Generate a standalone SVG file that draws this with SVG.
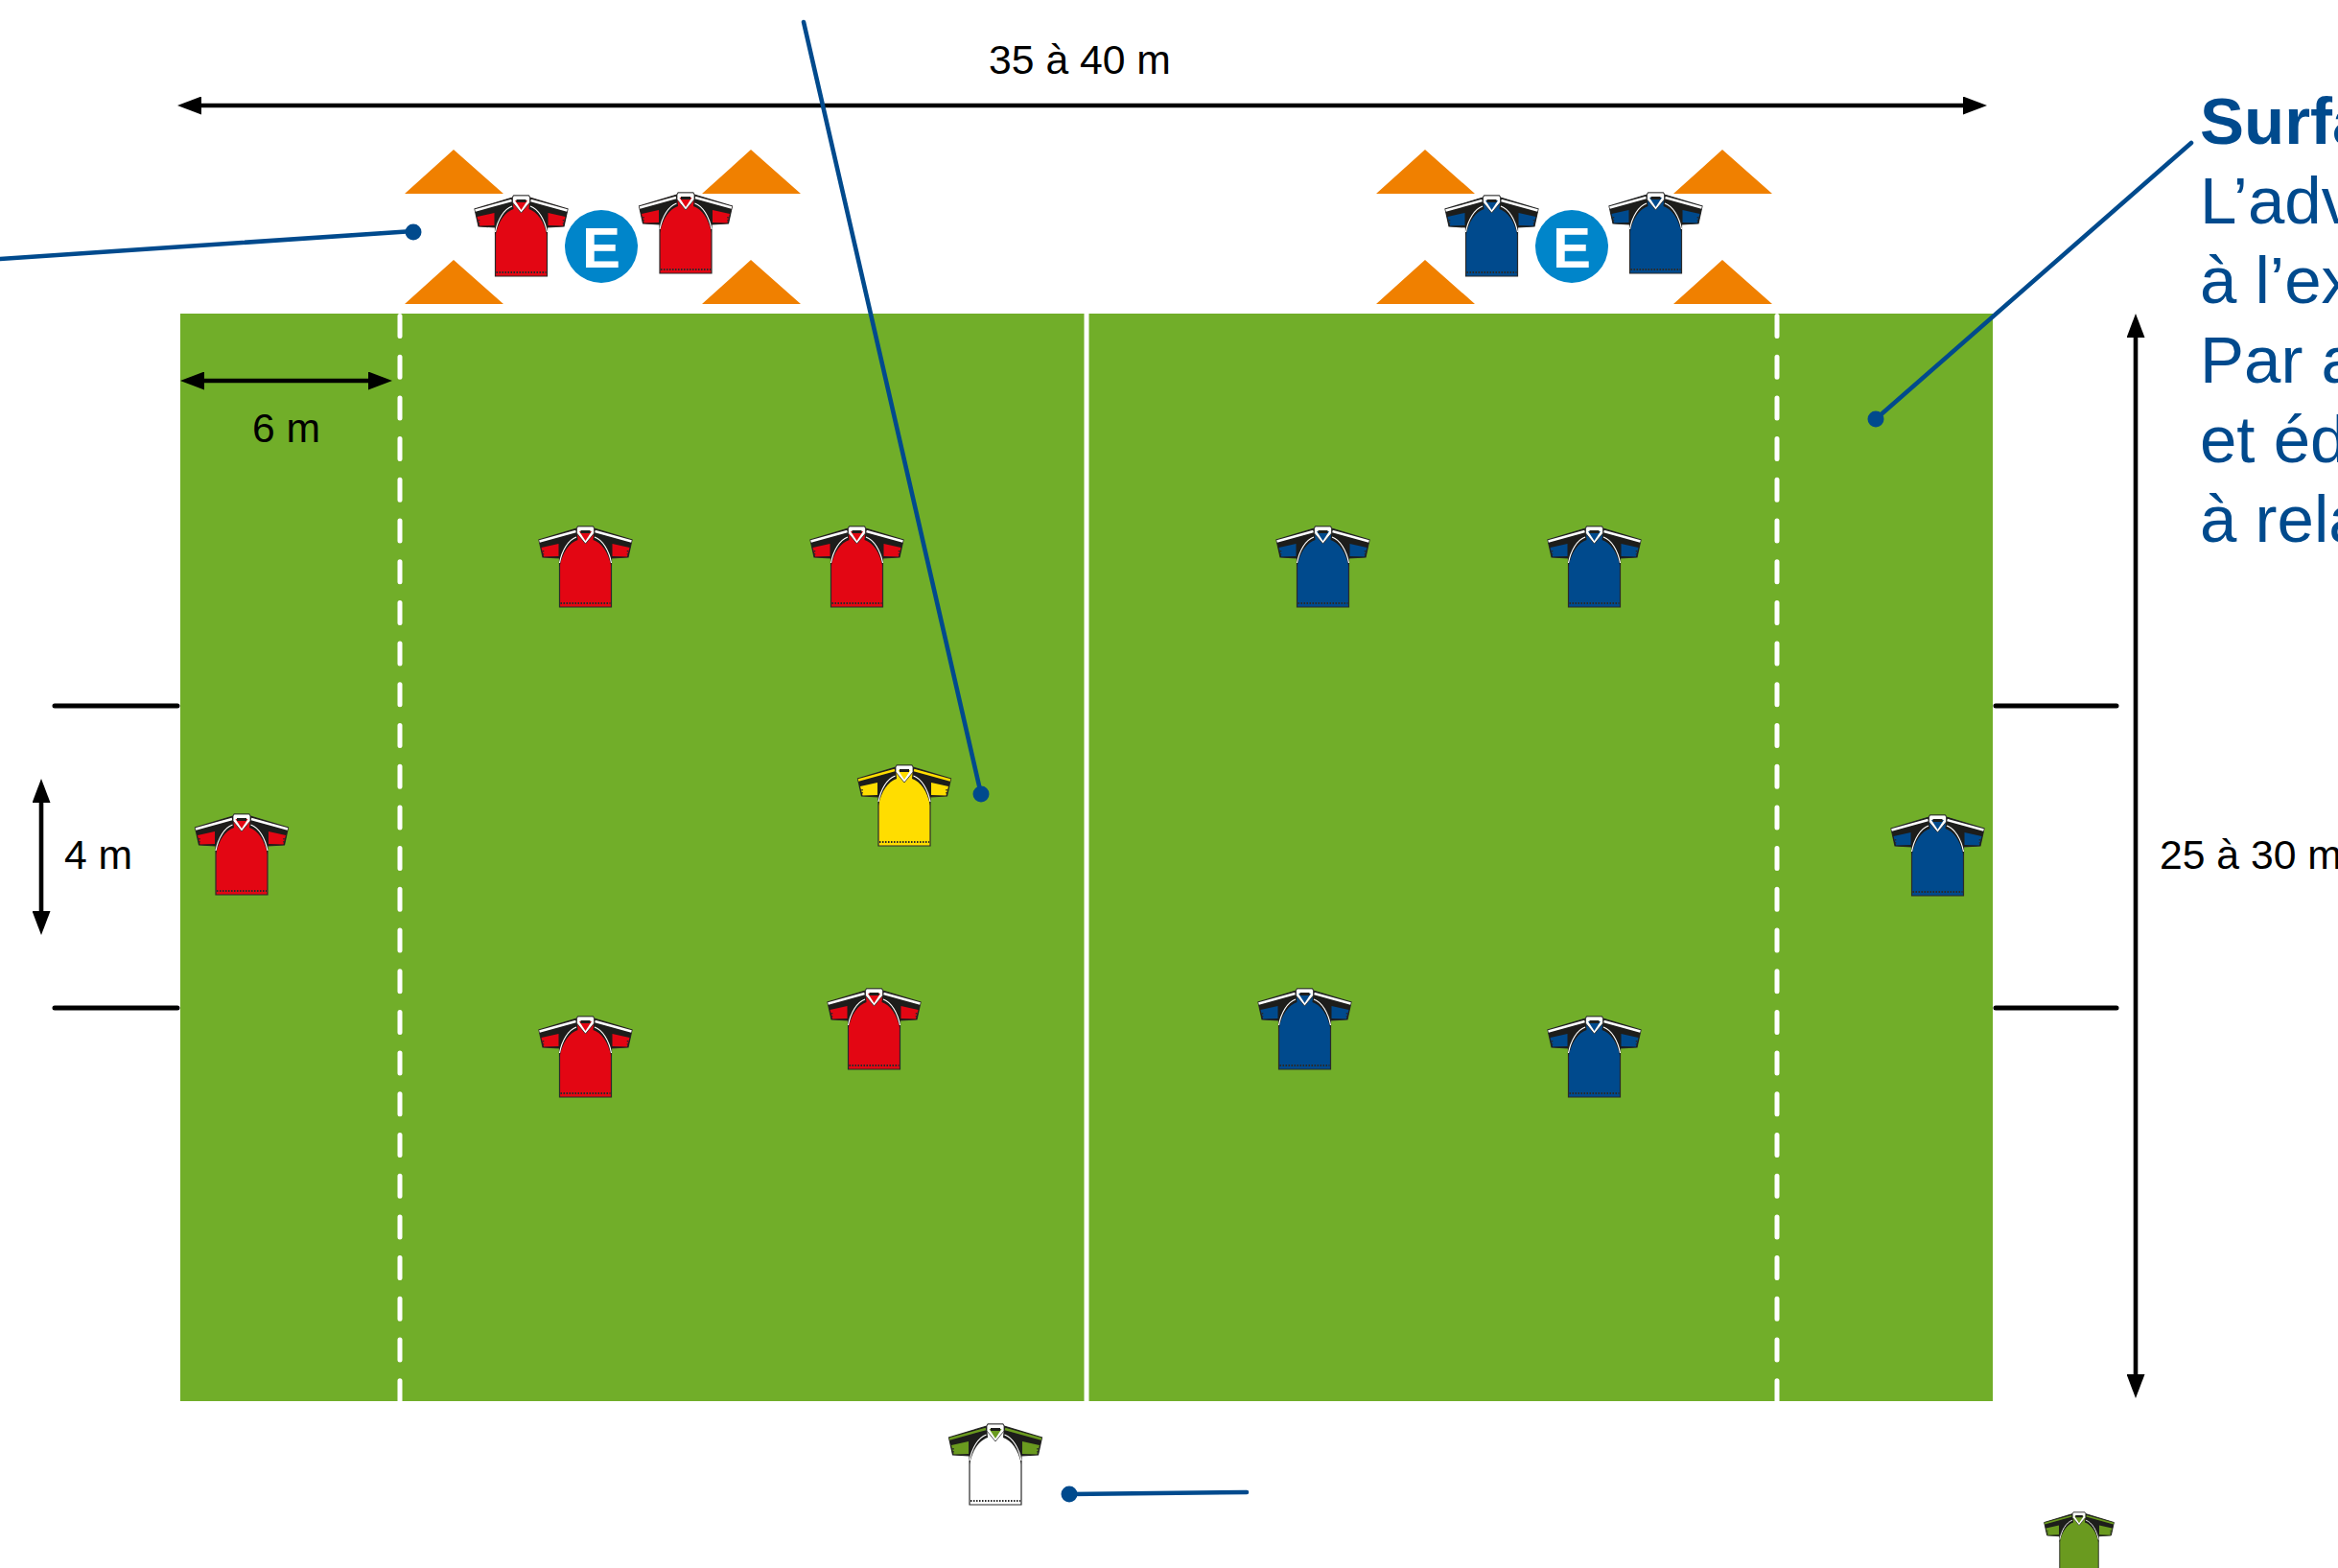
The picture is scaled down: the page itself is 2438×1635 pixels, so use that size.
<svg xmlns="http://www.w3.org/2000/svg" width="2438" height="1635" viewBox="0 0 2438 1635">
<style>
text{font-family:"Liberation Sans",Arial,sans-serif}
.dim{font-size:42.7px;fill:#000}
.blue{font-size:69px;fill:#004a8d}
.lead{stroke:#004a8d;stroke-width:4.6;fill:none;stroke-linecap:round}
.dot{fill:#004a8d}
.blk{stroke:#000;stroke-width:4.6;fill:none}
.post{stroke:#000;stroke-width:5;stroke-linecap:round}
.cone{fill:#f08000}
.red{--c:#e30613;--k:#e30613;--s:#ffffff}
.nav{--c:#004a8d;--k:#004a8d;--s:#ffffff}
.yel{--c:#ffdd00;--k:#ffdd00;--s:#ffdd00}
.wht{--c:#ffffff;--k:#6a9a1f;--s:#6a9a1f}
.grn{--c:#6a9a1f;--k:#6a9a1f;--s:#6a9a1f}
.c{fill:var(--c)}.k{fill:var(--k)}.s{stroke:var(--s);stroke-width:2.4;fill:none}
</style>
<defs>
<marker id="ah" viewBox="0 0 25 19" refX="3" refY="9.5" markerWidth="25" markerHeight="19" markerUnits="userSpaceOnUse" orient="auto-start-reverse"><path d="M0 0L25 9.5L0 19Z" fill="#000"/></marker>
<g id="shirt">
<path class="c" stroke="#2a2a2a" stroke-width="1.2" d="M-27 33V84H27V33L44.5 32L48.5 14L9 2L8 0H-8L-9 2L-48.5 14L-44.5 32Z"/>
<path fill="#1d1d1b" d="M-48.5 14L-9 2L-8 14C-17 17-24 27-27 42V33L-44.5 32ZM48.5 14L9 2L8 14C17 17 24 27 27 42V33L44.5 32Z"/>
<path class="k" d="M-46 22L-28 18V31L-43.5 31.5ZM46 22L28 18V31L43.5 31.5Z"/>
<path class="s" d="M-48 15.5L-10 5M48 15.5L10 5"/>
<path fill="none" stroke="#fff" stroke-width="1.2" d="M-9.5 11C-18 14-24.5 25-27 38M9.5 11C18 14 24.5 25 27 38"/>
<path fill="#fff" stroke="#2a2a2a" stroke-width=".8" d="M-9 2L-8 0H8L9 2V7L0 18L-9 7Z"/>
<path class="k" d="M-6.5 5H6.5L0 15Z"/>
<path fill="#1d1d1b" d="M-5 4H5V7H-5Z"/>
<path fill="none" stroke="#2a2a2a" stroke-width="2" stroke-dasharray="1.500 1.500" d="M-26 80H26"/>
<path fill="none" stroke="#2a2a2a" stroke-width="1.5" stroke-dasharray="1.500 1.500" d="M-44 25V31M44 25V31"/>
</g>
</defs>
<rect width="2438" height="1635" fill="#fff"/>
<g id="field">
<rect x="188" y="327" width="1890" height="1134" fill="#71ae29"/>
<path d="M1133 327V1461" stroke="#fff" stroke-width="5"/>
<path d="M417 329.500V1461M1853 329.500V1461" stroke="#fff" stroke-width="5" stroke-linecap="round" stroke-dasharray="21 21.700"/>
</g>
<g id="posts">
<path class="post" d="M57 736H185M57 1051H185M2081 736H2207M2081 1051H2207"/>
</g>
<g id="cones">
<path class="cone" d="M473 156L525 202H422ZM473 271L525 317H422ZM783 156L835 202H732ZM783 271L835 317H732ZM1486 156L1538 202H1435ZM1486 271L1538 317H1435ZM1796 156L1848 202H1745ZM1796 271L1848 317H1745Z"/>
</g>
<g id="connectors">
<path class="blk" marker-start="url(#ah)" marker-end="url(#ah)" d="M207 110H2050"/>
<path class="blk" marker-start="url(#ah)" marker-end="url(#ah)" d="M210 397H387"/>
<path class="blk" marker-start="url(#ah)" marker-end="url(#ah)" d="M43 834V953"/>
<path class="blk" marker-start="url(#ah)" marker-end="url(#ah)" d="M2227 349V1436"/>
<path class="lead" d="M0 270L431 241"/>
<path class="lead" d="M838 23L1023 828"/>
<path class="lead" d="M2285 149L1956 437"/>
<path class="lead" d="M1115 1558L1300 1556"/>
<circle class="dot" cx="431" cy="242" r="8.500"/>
<circle class="dot" cx="1023" cy="828" r="8.500"/>
<circle class="dot" cx="1956" cy="437" r="8.500"/>
<circle class="dot" cx="1115" cy="1558" r="8.500"/>
</g>
<g id="badge-red"><circle cx="627" cy="257" r="38" fill="#0085ca"/><text x="627" y="279" font-size="60" font-weight="700" fill="#fff" text-anchor="middle">E</text></g>
<g id="badge-blue"><circle cx="1639" cy="257" r="38" fill="#0085ca"/><text x="1639" y="279" font-size="60" font-weight="700" fill="#fff" text-anchor="middle">E</text></g>
<g id="shirts-red" class="red">
<use href="#shirt" x="543.500" y="204"/><use href="#shirt" x="715" y="201"/>
<use href="#shirt" x="610.500" y="549"/><use href="#shirt" x="893.500" y="549"/>
<use href="#shirt" x="252" y="849"/><use href="#shirt" x="610.500" y="1060"/><use href="#shirt" x="911.500" y="1031"/>
</g>
<g id="shirts-blue" class="nav">
<use href="#shirt" x="1555.500" y="204"/><use href="#shirt" x="1726.500" y="201"/>
<use href="#shirt" x="1379.500" y="549"/><use href="#shirt" x="1662.500" y="549"/>
<use href="#shirt" x="2020.500" y="850"/><use href="#shirt" x="1360.500" y="1031"/><use href="#shirt" x="1662.500" y="1060"/>
</g>
<g id="shirt-yellow" class="yel"><use href="#shirt" x="943" y="798"/></g>
<g id="shirt-white" class="wht"><use href="#shirt" x="1038" y="1485"/></g>
<g id="shirt-green" class="grn"><use href="#shirt" transform="translate(2168 1577) scale(.75)"/></g>
<g id="labels">
<text class="dim" x="1126" y="77" text-anchor="middle">35 à 40 m</text>
<text class="dim" x="298.500" y="461" text-anchor="middle">6 m</text>
<text class="dim" x="67" y="906">4 m</text>
<text class="dim" x="2252" y="906">25 à 30 m</text>
<text class="blue" x="2294" y="150" font-weight="700">Surfa</text>
<text class="blue" x="2294" y="233">L’adv</text>
<text class="blue" x="2294" y="316">à l’ex</text>
<text class="blue" x="2294" y="399">Par a</text>
<text class="blue" x="2294" y="482">et éd</text>
<text class="blue" x="2294" y="565">à rela</text>
</g>
</svg>
